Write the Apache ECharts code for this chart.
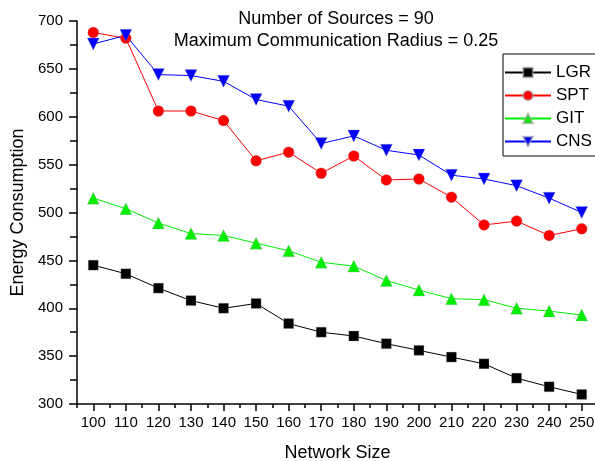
<!DOCTYPE html>
<html>
	<head>
		<meta charset="UTF-8">
		<title>Energy Consumption vs Network Size</title>
		<style type="text/css">
			body{ margin:0; background:#fff; }
			#main{ width:595px; height:461px; }
		</style>
	</head>
	<body>
		<div id="main"></div>
		<script src="https://cdn.jsdelivr.net/npm/echarts@6/dist/echarts.min.js" type="text/javascript" charset="utf-8"></script>
		<script type="text/javascript">
			// data
			var networkSize = [100, 110, 120, 130, 140, 150, 160, 170, 180, 190, 200, 210, 220, 230, 240, 250];
			var lgr = [445, 436, 421, 408, 400, 405, 384, 375, 371, 363, 356, 349, 342, 327, 318, 310];
			var spt = [688, 682, 606, 606, 596, 554, 563, 541, 559, 534, 535, 516, 487, 491, 476, 483];
			var git = [515, 504, 489, 478, 476, 468, 460, 448, 444, 429, 419, 410, 409, 400, 397, 393];
			var cns = [676, 685, 644, 643, 637, 618, 611, 572, 580, 565, 560, 539, 535, 528, 515, 500];
			var majorTicks = [100, 110, 120, 130, 140, 150, 160, 170, 180, 190, 200, 210, 220, 230, 240, 250];
			var minorTicks = [95, 105, 115, 125, 135, 145, 155, 165, 175, 185, 195, 205, 215, 225, 235, 245, 255];

			var font = 'Liberation Sans, Arial, sans-serif';

			function pairs(vals){
				return networkSize.map(function(x, i){ return [x, vals[i]]; });
			}

			function line(name, vals, color, symbol, size, rotate){
				return {
					name: name,
					type: 'line',
					data: pairs(vals),
					symbol: symbol,
					symbolSize: size,
					symbolRotate: rotate || 0,
					showAllSymbol: true,
					lineStyle: { color: color, width: 1 },
					itemStyle: { color: color, borderColor: 'rgba(160,160,160,0.6)', borderWidth: 0.5 },
					emphasis: { disabled: true }
				};
			}

			var myChart = echarts.init(document.getElementById("main"));
			var option = {
				animation: false,
				textStyle: { fontFamily: font, color: '#000' },
				title: {
					text: 'Number of Sources = 90\nMaximum Communication Radius = 0.25',
					left: 331,
					textAlign: 'center',
					top: 3,
					textStyle: { fontFamily: font, fontSize: 18, fontWeight: 'normal', color: '#000', lineHeight: 22 }
				},
				legend: {
					orient: 'vertical',
					left: 503,
					top: 54,
					padding: [10, 20, 6, 1],
					itemGap: 6,
					itemWidth: 46,
					itemHeight: 12,
					borderColor: '#000',
					borderWidth: 1,
					textStyle: { fontFamily: font, fontSize: 17, color: '#000', lineHeight: 17 },
					data: ['LGR', 'SPT', 'GIT', 'CNS']
				},
				grid: { left: 77, top: 21, width: 521, height: 383, outerBoundsMode: 'none', containLabel: false },
				xAxis: [{
					type: 'value',
					min: 95,
					max: 255,
					name: 'Network Size',
					nameLocation: 'middle',
					nameGap: 40,
					nameTextStyle: { fontFamily: font, fontSize: 18, color: '#000' },
					axisLine: { lineStyle: { color: '#000', width: 1.5 } },
					axisTick: { customValues: majorTicks, length: 7, lineStyle: { color: '#000', width: 1.5 } },
					axisLabel: { customValues: majorTicks, fontFamily: font, fontSize: 15, color: '#000', margin: 11 },
					splitLine: { show: false }
				}, {
					type: 'value',
					min: 95,
					max: 255,
					position: 'bottom',
					axisLine: { show: false },
					axisTick: { customValues: minorTicks, length: 4, lineStyle: { color: '#000', width: 1.5 } },
					axisLabel: { show: false },
					splitLine: { show: false }
				}],
				yAxis: {
					type: 'value',
					min: 300,
					max: 700,
					interval: 50,
					name: 'Energy Consumption',
					nameLocation: 'middle',
					nameGap: 46,
					nameTextStyle: { fontFamily: font, fontSize: 18, color: '#000' },
					axisLine: { show: true, lineStyle: { color: '#000', width: 1.5 } },
					axisTick: { show: true, length: 8, lineStyle: { color: '#000', width: 1.5 } },
					minorTick: { show: true, splitNumber: 2, length: 7, lineStyle: { color: '#000', width: 1.5 } },
					axisLabel: { fontFamily: font, fontSize: 15, color: '#000', margin: 14 },
					splitLine: { show: false }
				},
				series: [
					line('LGR', lgr, '#000000', 'rect', 10),
					line('SPT', spt, '#ff0000', 'circle', 11),
					line('GIT', git, '#00ee00', 'triangle', 12),
					line('CNS', cns, '#0000ff', 'triangle', 12, 180)
				]
			};
			myChart.setOption(option);
		</script>
	</body>
</html>
